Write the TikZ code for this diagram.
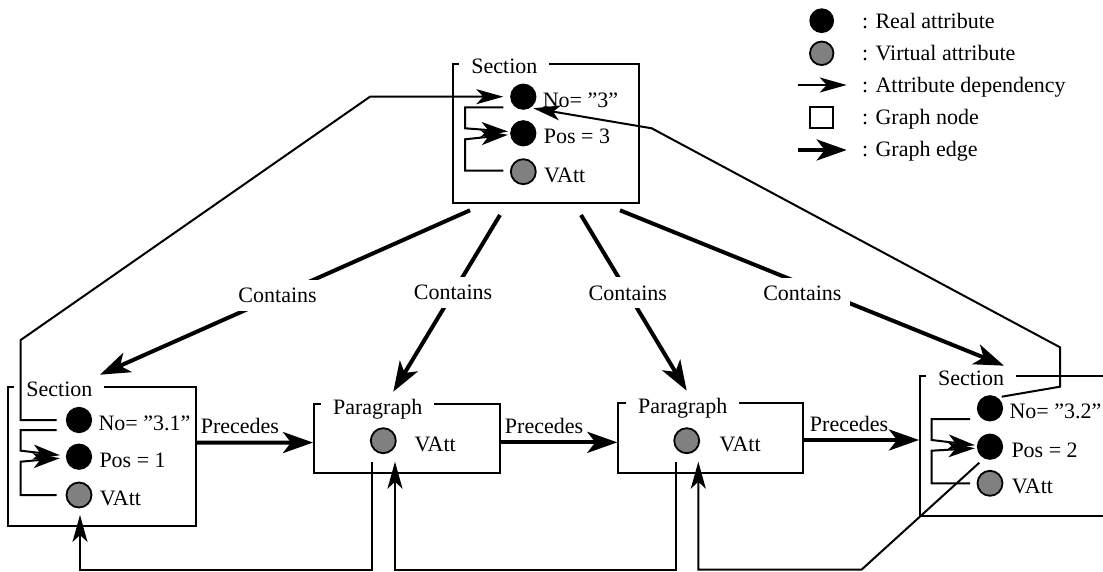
\documentclass[tikz,border=0pt]{standalone}
\usepackage{fontspec}
\setmainfont{Liberation Serif}
\usetikzlibrary{arrows.meta,calc}
\begin{document}
\begin{tikzpicture}[x=0.5pt,y=-0.5pt, font=\fontsize{11}{13}\selectfont,
  gbox/.style={draw, line width=1pt, inner sep=0pt},
  ttl/.style={fill=white, inner xsep=6pt, inner ysep=1pt, anchor=base west},
  real/.style={circle, fill=black, draw=black, line width=0.6pt, minimum size=12.5pt, inner sep=0pt},
  virt/.style={circle, fill=gray, draw=black, line width=0.9pt, minimum size=12.5pt, inner sep=0pt},
  attl/.style={inner sep=0pt, anchor=base west},
  dep/.style={line width=1pt, -{Stealth[length=13.5pt,width=7.5pt,inset=3.5pt]}},
  gedge/.style={line width=2pt, -{Stealth[length=15pt,width=10.5pt,inset=4pt]}},
  elbl/.style={fill=white, inner sep=4pt},
  plbl/.style={inner sep=0pt, anchor=base, yshift=4.3pt},
]
\useasboundingbox (0,0) rectangle (1103,572);
\clip (0,0) rectangle (1103,572);
\fill[white] (0,0) rectangle (1103,572);

% graph nodes (boxes)
\node[gbox, minimum width=93.3pt, minimum height=69.65pt] (S3) at (546,133.65) {};
\node[gbox, minimum width=93.85pt, minimum height=69.65pt] (S31) at (102.15,456.35) {};
\node[gbox, minimum width=93pt, minimum height=34.35pt] (P1) at (407,438.35) {};
\node[gbox, minimum width=92.5pt, minimum height=34.7pt] (P2) at (710.8,438) {};
\node[gbox, minimum width=140pt, minimum height=69.85pt] (S32) at (1060,445.85) {};

% box titles
\node[ttl] (tS3) at ($(S3.north west)+(7.3,11)$) {Section};
\node[ttl] (tS31) at ($(S31.north west)+(6.7,10.7)$) {Section};
\node[ttl] (tP1) at ($(P1.north west)+(7.7,11)$) {Paragraph};
\node[ttl] (tP2) at ($(P2.north west)+(8.4,11)$) {Paragraph};
\node[ttl] (tS32) at ($(S32.north west)+(6.7,10)$) {Section};

% attributes
\node[real] (n3) at (523.3,96.7) {};
\node[real] (p3) at (523.3,133.3) {};
\node[virt] (v3) at (523.3,171.7) {};
\node[real] (n31) at (79,420) {};
\node[real] (p31) at (79,456.7) {};
\node[virt] (v31) at (79,495) {};
\node[virt] (vp1) at (383.3,440.7) {};
\node[virt] (vp2) at (686.7,440.7) {};
\node[real] (n32) at (990,408.3) {};
\node[real] (p32) at (990,446.7) {};
\node[virt] (v32) at (990,483.3) {};

\node[attl] (tn3) at ($(n3.east)+(6,10.5)$) {No= ”3”};
\node[attl] (tp3) at ($(p3.east)+(7,10.5)$) {Pos = 3};
\node[attl] (tv3) at ($(v3.east)+(7,10.5)$) {VAtt};
\node[attl] (tn31) at ($(n31.east)+(6,10.5)$) {No= ”3.1”};
\node[attl] (tp31) at ($(p31.east)+(7,10.5)$) {Pos = 1};
\node[attl] (tv31) at ($(v31.east)+(7,10.5)$) {VAtt};
\node[attl] (tvp1) at ($(vp1.east)+(17.5,10.5)$) {VAtt};
\node[attl] (tvp2) at ($(vp2.east)+(19,10.5)$) {VAtt};
\node[attl] (tn32) at ($(n32.east)+(6,10.5)$) {No= ”3.2”};
\node[attl] (tp32) at ($(p32.east)+(8,10.5)$) {Pos = 2};
\node[attl] (tv32) at ($(v32.east)+(8,10.5)$) {VAtt};

% graph edges
\draw[gedge] ($(S3.south)+(-76,6)$) -- node[pos=0.52, elbl] (c1) {Contains} ($(S31.north)+(-2.15,-11)$);
\draw[gedge] ($(S3.south)+(-46,10.7)$) -- node[pos=0.44, elbl] (c2) {Contains} ($(P1.north)+(-13.7,-11.3)$);
\draw[gedge] ($(S3.south)+(35,10.7)$) -- node[pos=0.443, elbl] (c3) {Contains} ($(P2.north)+(-24.1,-11.6)$);
\draw[gedge] ($(S3.south)+(74,6)$) -- node[pos=0.475, elbl, yshift=-4.5pt] (c4) {Contains} ($(S32.north west)+(85,-9.3)$);

\draw[gedge] ($(S31.east)+(0,-13.8)$) -- node[pos=0.37, plbl] (pr1) {Precedes} ($(P1.west)+(0,4.2)$);
\draw[gedge] ($(P1.east)+(0,4)$) -- node[pos=0.37, plbl] (pr2) {Precedes} ($(P2.west)+(0,4.35)$);
\draw[gedge] ($(P2.east)+(0,2)$) -- node[pos=0.39, plbl] (pr3) {Precedes} ($(S32.west)+(0,-5.85)$);

% attribute dependencies inside boxes
\draw[dep] ($(n3)+(-20,10.6)$) -- ++(-38.3,0) -- ++(0,21) -- ($(p3)+(-15.3,-1.8)$);
\draw[dep] ($(v3)+(-20,-1)$) -- ++(-38.3,0) -- ++(0,-31.4) -- ($(p3)+(-15.3,1.5)$);
\draw[dep] ($(n31)+(-22.3,10)$) -- ++(-36,0) -- ++(0,20.7) -- ($(p31)+(-19,-1.5)$);
\draw[dep] ($(v31)+(-22.3,0)$) -- ++(-36,0) -- ++(0,-33.3) -- ($(p31)+(-19,1.5)$);
\draw[dep] ($(n32)+(-20,10.7)$) -- ++(-38.3,0) -- ++(0,21) -- ($(p32)+(-15,-1.5)$);
\draw[dep] ($(v32)+(-20,0)$) -- ++(-38.3,0) -- ++(0,-32.6) -- ($(p32)+(-15,1.5)$);

% long dependencies
\draw[dep] ($(n31)+(-22.3,0)$) -- ++(-36,0) -- ++(0,-80) -- ($(n3)+(-153.3,0)$) -- ($(n3)+(-20,0)$);
\draw[dep] ($(n32)+(11.7,-11.6)$) -- ($(n32)+(70,-21.6)$) -- ++(0,-39.4) -- ($(n3)+(128.4,31.6)$) -- ($(n3)+(10,11.6)$);
\draw[dep] ($(vp1)+(-11.6,21)$) |- ($(v31)+(1,74.5)$) -- ($(v31)+(1,20)$);
\draw[dep] ($(vp2)+(-11,21)$) |- ($(vp1)+(11.7,128.8)$) -- ($(vp1)+(11.7,21)$);
\draw[dep] ($(p32)+(-10.7,16)$) -- ($(p32)+(-128.3,122.8)$) -- ($(vp2)+(11.6,128.8)$) -- ($(vp2)+(11.6,21)$);

% legend
\node[real, minimum size=11.75pt] (lg1) at (821.7,20.7) {};
\node[virt, minimum size=11.75pt] (lg2) at (821.7,53.3) {};
\coordinate (lg3a) at (798.3,85);
\coordinate (lg3b) at (846.7,85);
\draw[dep] (lg3a) -- (lg3b);
\node[draw, line width=1pt, minimum width=11.3pt, minimum height=10.8pt, inner sep=0pt] (lg4) at (821.4,117.5) {};
\coordinate (lg5a) at (798.3,150);
\coordinate (lg5b) at (846.7,150);
\draw[gedge] (lg5a) -- (lg5b);
\node[attl] (lt1) at (861.7,28.5) {: Real attribute};
\node[attl] (lt2) at (861.7,61) {: Virtual attribute};
\node[attl] (lt3) at (861.7,93) {: Attribute dependency};
\node[attl] (lt4) at (861.7,125) {: Graph node};
\node[attl] (lt5) at (861.7,157) {: Graph edge};
\end{tikzpicture}
\end{document}
